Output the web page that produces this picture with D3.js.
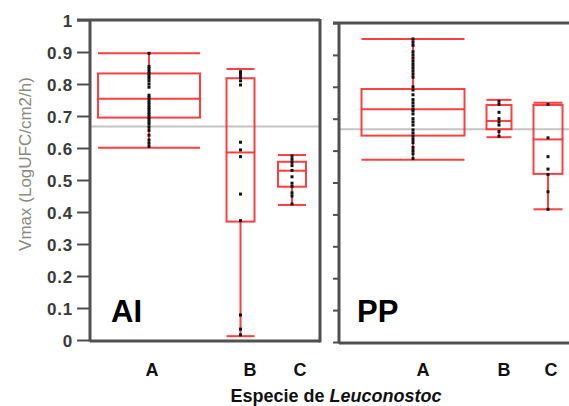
<!DOCTYPE html>
<html><head><meta charset="utf-8">
<script src="https://cdn.jsdelivr.net/npm/d3@7"></script>
<style>body{margin:0;background:#fff}svg{display:block}</style>
</head><body><div id="c"></div>
<script>
// ---- data ----
const panels = ["AI", "PP"];
const species = ["A", "B", "C"];
const yTicks = [0, 0.1, 0.2, 0.3, 0.4, 0.5, 0.6, 0.7, 0.8, 0.9, 1];
const yTickLabels = ["0", "0.1", "0.2", "0.3", "0.4", "0.5", "0.6", "0.7", "0.8", "0.9", "1"];
const grandMean = 0.667;
// box stats: [lowerWhisker, q1, median, q3, upperWhisker]
const boxesAI = [[0.601, 0.695, 0.754, 0.833, 0.896], [0.012, 0.370, 0.586, 0.818, 0.847], [0.422, 0.479, 0.529, 0.557, 0.578]];
const boxesPP = [[0.571, 0.647, 0.730, 0.793, 0.950], [0.642, 0.667, 0.693, 0.743, 0.759], [0.416, 0.527, 0.635, 0.743, 0.750]];
const pointsAI_A = [0.896, 0.855, 0.848, 0.84, 0.833, 0.825, 0.818, 0.81, 0.80, 0.79, 0.765, 0.758, 0.75, 0.742, 0.735, 0.727, 0.72, 0.712, 0.705, 0.697, 0.69, 0.682, 0.675, 0.665, 0.655, 0.64, 0.625, 0.615, 0.605];
const pointsAI_B = [0.838, 0.83, 0.82, 0.81, 0.797, 0.618, 0.594, 0.573, 0.456, 0.373, 0.078, 0.034, 0.016];
const pointsAI_C = [0.575, 0.565, 0.555, 0.545, 0.53, 0.51, 0.49, 0.48, 0.46, 0.45, 0.425];
const pointsPP_A = [0.95, 0.94, 0.93, 0.91, 0.90, 0.89, 0.88, 0.87, 0.86, 0.85, 0.84, 0.83, 0.80, 0.79, 0.775, 0.76, 0.75, 0.74, 0.73, 0.725, 0.715, 0.70, 0.69, 0.68, 0.665, 0.655, 0.645, 0.635, 0.625, 0.61, 0.60, 0.59, 0.575];
const pointsPP_B = [0.755, 0.745, 0.72, 0.70, 0.69, 0.68, 0.66, 0.645];
const pointsPP_C = [0.745, 0.64, 0.581, 0.542, 0.525, 0.471, 0.416];
const xTitle = ["Especie de ", "Leuconostoc"];
const yTitle = "Vmax (LogUFC/cm2/h)";

// ---- layout ----
const W = 569, H = 406;
const layout = {
  AI: {x0: 90, x1: 320, yTop: 20, yBot: 340, centers: [149, 240.5, 292], widths: [102, 28, 28], labelX: [152, 250, 300], tickLen: 13},
  PP: {x0: 339, x1: 575, yTop: 23, yBot: 342, centers: [413, 499, 548], widths: [103, 25, 29], labelX: [423, 504, 551], tickLen: 6}
};
const boxes = {AI: boxesAI, PP: boxesPP};
const points = {AI: [pointsAI_A, pointsAI_B, pointsAI_C], PP: [pointsPP_A, pointsPP_B, pointsPP_C]};
const FONT = "Liberation Sans, Arial, sans-serif";

const svg = d3.select("#c").append("svg").attr("width", W).attr("height", H);
const red = "#ff2a2a", axisCol = "#505050";

panels.forEach(p => {
  const L = layout[p];
  const y = d3.scaleLinear().domain([0, 1]).range([L.yBot, L.yTop]);
  const xc = d3.scaleOrdinal().domain(species).range(L.centers);
  const xw = d3.scaleOrdinal().domain(species).range(L.widths);
  const xl = d3.scaleOrdinal().domain(species).range(L.labelX);
  const g = svg.append("g");

  // grand mean line
  g.append("line").attr("x1", L.x0).attr("x2", Math.min(L.x1, W)).attr("y1", y(grandMean)).attr("y2", y(grandMean))
    .attr("stroke", "#c4c4c4").attr("stroke-width", 2);

  // boxes
  species.forEach((s, i) => {
    const [lo, q1, med, q3, hi] = boxes[p][i];
    const cx = xc(s), w = xw(s);
    const bg = g.append("g").attr("stroke", red).attr("stroke-width", 2).attr("fill", "none").attr("stroke-opacity", 0.9);
    bg.append("line").attr("x1", cx).attr("x2", cx).attr("y1", y(hi)).attr("y2", y(q3));
    bg.append("line").attr("x1", cx).attr("x2", cx).attr("y1", y(q1)).attr("y2", y(lo));
    bg.append("rect").attr("x", cx - w / 2).attr("y", y(q3)).attr("width", w).attr("height", y(q1) - y(q3));
    bg.append("line").attr("x1", cx - w / 2).attr("x2", cx + w / 2).attr("y1", y(med)).attr("y2", y(med));
    [lo, hi].forEach(v => bg.append("line").attr("x1", cx - w / 2).attr("x2", cx + w / 2).attr("y1", y(v)).attr("y2", y(v)));
    g.selectAll(null).data(points[p][i]).enter().append("rect")
      .attr("x", cx - 1.5).attr("y", d => y(d) - 1.5).attr("width", 3).attr("height", 3).attr("fill", "#111");
    g.append("text").attr("x", xl(s)).attr("y", 376).attr("text-anchor", "middle")
      .attr("font-family", FONT).attr("font-weight", "bold").attr("font-size", 18).attr("fill", "#111").text(s);
  });

  // frame
  const fr = g.append("g").attr("stroke", axisCol).attr("stroke-width", 3).attr("fill", "none");
  fr.append("line").attr("x1", L.x0).attr("x2", L.x0).attr("y1", L.yTop - 1).attr("y2", L.yBot + 1.5);
  fr.append("line").attr("x1", L.x0 - L.tickLen).attr("x2", L.x1).attr("y1", L.yTop).attr("y2", L.yTop);
  fr.append("line").attr("x1", L.x0).attr("x2", L.x1).attr("y1", L.yBot + 1).attr("y2", L.yBot + 1);
  if (L.x1 < W) fr.append("line").attr("x1", L.x1).attr("x2", L.x1).attr("y1", L.yTop - 1).attr("y2", L.yBot + 2.5);

  // ticks
  const ax = d3.axisLeft(y).tickValues(yTicks).tickSize(L.tickLen).tickFormat((d, i) => p === "AI" ? yTickLabels[i] : "");
  const ag = g.append("g").attr("transform", `translate(${L.x0},0)`).call(ax);
  ag.select(".domain").remove();
  ag.selectAll(".tick line").attr("stroke", axisCol).attr("stroke-width", 2);
  ag.selectAll(".tick text").attr("font-family", FONT).attr("font-weight", "bold")
    .attr("font-size", 17).attr("letter-spacing", 0.8).attr("fill", "#3a3a3a").attr("dx", "-1").attr("dy", "0.36em");

  // panel label
  g.append("text").attr("x", p === "AI" ? 111 : 357).attr("y", 322)
    .attr("font-family", FONT).attr("font-weight", "bold").attr("font-size", 31).attr("fill", "#000").text(p);
});

// axis titles
const xt = svg.append("text").attr("x", 336).attr("y", 402).attr("text-anchor", "middle")
  .attr("font-family", FONT).attr("font-weight", "bold").attr("font-size", 18).attr("fill", "#111");
xt.append("tspan").text(xTitle[0]);
xt.append("tspan").attr("font-style", "italic").text(xTitle[1]);

svg.append("text").attr("transform", "translate(31,164) rotate(-90)").attr("text-anchor", "middle")
  .attr("font-family", FONT).attr("font-size", 17).attr("fill", "#8a8a80").text(yTitle);
</script></body></html>
